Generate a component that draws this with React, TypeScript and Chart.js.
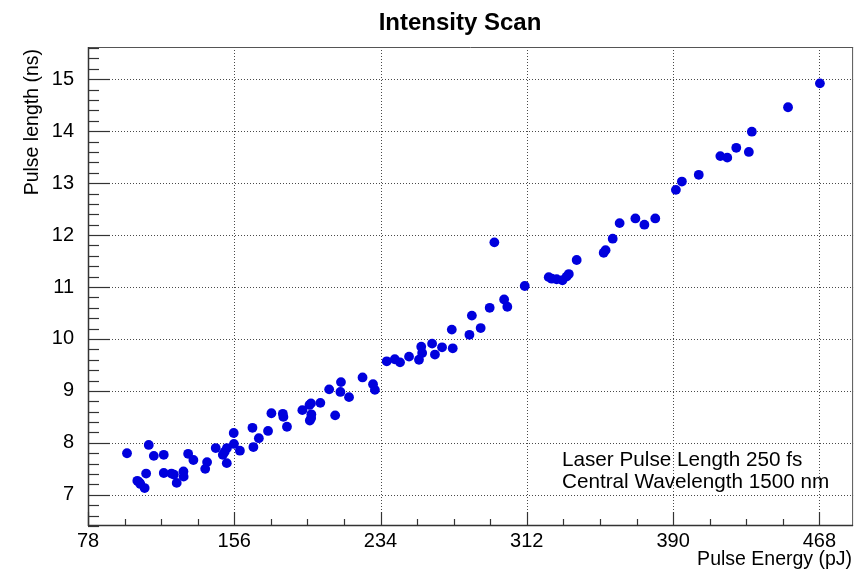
import React, { useEffect, useRef } from "react";
import { Chart, registerables } from "chart.js";

Chart.register(...registerables);

// Pulse energy (pJ) of each measurement
const energy = [
  98.8, 110.4, 113.1, 118.4, 109.0, 104.3, 105.4, 105.9, 108.2, 118.4,
  122.5, 123.8, 125.3, 128.9, 129.0, 131.4, 134.2, 140.5, 141.5, 146.1,
  149.9, 150.9, 152.1, 152.0, 155.7, 155.8, 159.0, 166.2, 165.7, 169.1,
  174.0, 175.8, 181.9, 182.2, 184.1, 192.3, 196.1, 196.9, 197.1, 197.0,
  196.3, 201.9, 209.8, 206.6, 212.9, 212.6, 217.2, 224.4, 230.0, 231.0,
  237.3, 241.6, 244.4, 249.2, 254.5, 255.7, 256.2, 261.5, 263.0, 266.8,
  272.5, 272.0, 281.4, 282.7, 287.4, 292.2, 299.9, 301.6, 294.7, 310.9,
  323.7, 325.3, 327.9, 331.0, 333.2, 334.4, 338.6, 353.0, 354.0, 357.8,
  361.5, 369.9, 374.7, 380.5, 391.5, 394.7, 403.7, 415.2, 418.9, 423.7,
  430.4, 432.0, 451.3, 468.3,
];

// Measured pulse length (ns)
const pulseLength = [
  7.80, 7.96, 7.75, 7.77, 7.41, 7.27, 7.24, 7.21, 7.13, 7.42,
  7.41, 7.39, 7.23, 7.45, 7.35, 7.79, 7.67, 7.50, 7.63, 7.90,
  7.77, 7.83, 7.90, 7.61, 8.19, 7.98, 7.85, 7.92, 8.29, 8.09,
  8.23, 8.57, 8.56, 8.50, 8.31, 8.63, 8.73, 8.76, 8.55, 8.48,
  8.43, 8.77, 8.53, 9.03, 9.17, 8.98, 8.88, 9.26, 9.13, 9.02,
  9.57, 9.61, 9.55, 9.66, 9.60, 9.85, 9.73, 9.91, 9.70, 9.84,
  9.82, 10.18, 10.08, 10.45, 10.21, 10.60, 10.76, 10.62, 11.86, 11.02,
  11.19, 11.16, 11.15, 11.13, 11.20, 11.25, 11.52, 11.66, 11.71, 11.93,
  12.23, 12.32, 12.20, 12.32, 12.87, 13.03, 13.16, 13.52, 13.49, 13.68,
  13.60, 13.99, 14.46, 14.92,
];

const xTicks = [78, 156, 234, 312, 390, 468];
const yTicks = [7, 8, 9, 10, 11, 12, 13, 14, 15];

const titleText = "Intensity Scan";
const xTitle = "Pulse Energy (pJ)";
const yTitle = "Pulse length (ns)";
const noteLines = ["Laser Pulse Length 250 fs", "Central Wavelength 1500 nm"];

const FONT = "'Liberation Sans', Arial, Helvetica, sans-serif";

const framePlugin = {
  id: "rootFrame",
  beforeDraw(chart: any) {
    const { ctx, width, height } = chart;
    ctx.save();
    ctx.fillStyle = "#ffffff";
    ctx.fillRect(0, 0, width, height);
    ctx.restore();
  },
  beforeDatasetsDraw(chart: any) {
    const { ctx, chartArea: a, scales } = chart;
    const xs = scales.x;
    const ys = scales.y;
    ctx.save();
    // dotted grid
    ctx.strokeStyle = "#4a4a4a";
    ctx.lineWidth = 1;
    ctx.setLineDash([1, 2]);
    xTicks.forEach((v) => {
      const px = Math.round(xs.getPixelForValue(v)) + 0.5;
      if (px <= a.left + 1 || px >= a.right - 1) return;
      ctx.beginPath();
      ctx.moveTo(px, a.top);
      ctx.lineTo(px, a.bottom);
      ctx.stroke();
    });
    yTicks.forEach((v) => {
      const py = Math.round(ys.getPixelForValue(v)) + 0.5;
      ctx.beginPath();
      ctx.moveTo(a.left, py);
      ctx.lineTo(a.right, py);
      ctx.stroke();
    });
    ctx.setLineDash([]);

    // frame
    ctx.strokeStyle = "#555555";
    ctx.lineWidth = 1;
    ctx.beginPath();
    ctx.moveTo(a.left, a.top + 0.5);
    ctx.lineTo(a.right, a.top + 0.5);
    ctx.moveTo(a.right - 0.5, a.top);
    ctx.lineTo(a.right - 0.5, a.bottom);
    ctx.stroke();

    // axes lines
    ctx.strokeStyle = "#333333";
    ctx.lineWidth = 1.5;
    ctx.beginPath();
    ctx.moveTo(a.left + 0.5, a.top);
    ctx.lineTo(a.left + 0.5, a.bottom);
    ctx.moveTo(a.left, a.bottom - 0.5);
    ctx.lineTo(a.right, a.bottom - 0.5);
    ctx.stroke();

    // ticks (inside, ROOT style)
    ctx.lineWidth = 1.2;
    const xStep = (xTicks[1] - xTicks[0]) / 4;
    for (let v = xTicks[0]; v <= xs.max + 1e-9; v += xStep) {
      const k = Math.round((v - xTicks[0]) / xStep);
      const len = k % 4 === 0 ? 14 : 7;
      const px = Math.round(xs.getPixelForValue(v)) + 0.5;
      ctx.beginPath();
      ctx.moveTo(px, a.bottom);
      ctx.lineTo(px, a.bottom - len);
      ctx.stroke();
    }
    const yStep = (yTicks[1] - yTicks[0]) / 5;
    let yStart = yTicks[0];
    while (yStart - yStep >= ys.min - 1e-9) yStart -= yStep;
    for (let v = yStart; v <= ys.max + 1e-9; v += yStep) {
      const k = Math.round((v - yTicks[0]) / yStep);
      const len = ((k % 5) + 5) % 5 === 0 ? 22 : 11;
      const py = Math.round(ys.getPixelForValue(v)) + 0.5;
      ctx.beginPath();
      ctx.moveTo(a.left, py);
      ctx.lineTo(a.left + len, py);
      ctx.stroke();
    }
    ctx.restore();
  },
  afterDraw(chart: any) {
    const { ctx, chartArea: a } = chart;
    ctx.save();
    ctx.fillStyle = "#000000";
    // title
    ctx.font = `bold 24px ${FONT}`;
    ctx.textAlign = "center";
    ctx.textBaseline = "alphabetic";
    ctx.fillText(titleText, 460, 30);
    // x title
    ctx.font = `19.5px ${FONT}`;
    ctx.textAlign = "right";
    ctx.fillText(xTitle, a.right - 1, 565);
    // y title
    ctx.save();
    ctx.translate(38, a.top + 2);
    ctx.rotate(-Math.PI / 2);
    ctx.textAlign = "right";
    ctx.fillText(yTitle, 0, 0);
    ctx.restore();
    // notes
    ctx.font = `20.7px ${FONT}`;
    ctx.textAlign = "left";
    ctx.fillText(noteLines[0], 562, 466);
    ctx.fillText(noteLines[1], 562, 488);
    ctx.restore();
  },
};

export default function App() {
  const ref = useRef<HTMLCanvasElement>(null);
  useEffect(() => {
    const canvas = ref.current;
    if (!canvas) return;
    const points = energy.map((x, i) => ({ x, y: pulseLength[i] }));
    const chart = new Chart(canvas, {
      type: "scatter",
      data: {
        datasets: [
          {
            data: points,
            backgroundColor: "#0000dd",
            borderColor: "#0000dd",
            pointRadius: 4.9,
            pointBorderWidth: 0,
          },
        ],
      },
      options: {
        responsive: false,
        animation: false,
        devicePixelRatio: 1,
        layout: { padding: { top: 47, right: 1, left: 0, bottom: 0 } },
        plugins: {
          legend: { display: false },
          title: { display: false },
          tooltip: { enabled: false },
        },
        scales: {
          x: {
            type: "linear",
            min: 78,
            max: 486,
            grid: { display: false, drawTicks: false },
            border: { display: false },
            afterBuildTicks: (s: any) => {
              s.ticks = xTicks.map((v) => ({ value: v }));
            },
            afterFit: (s: any) => {
              s.height = 44;
            },
            ticks: {
              padding: 3,
              color: "#000",
              maxRotation: 0,
              autoSkip: false,
              font: { family: FONT, size: 20 },
            },
          },
          y: {
            type: "linear",
            min: 6.4,
            max: 15.62,
            grid: { display: false, drawTicks: false },
            border: { display: false },
            afterBuildTicks: (s: any) => {
              s.ticks = yTicks.map((v) => ({ value: v }));
            },
            afterFit: (s: any) => {
              s.width = 88;
            },
            ticks: {
              padding: 14,
              color: "#000",
              autoSkip: false,
              font: { family: FONT, size: 20 },
            },
          },
        },
      },
      plugins: [framePlugin],
    } as any);
    return () => chart.destroy();
  }, []);
  return (
    <div style={{ position: "absolute", left: 0, top: 0, width: 858, height: 570, background: "#fff" }}>
      <canvas ref={ref} width={858} height={570} style={{ display: "block" }} />
    </div>
  );
}
